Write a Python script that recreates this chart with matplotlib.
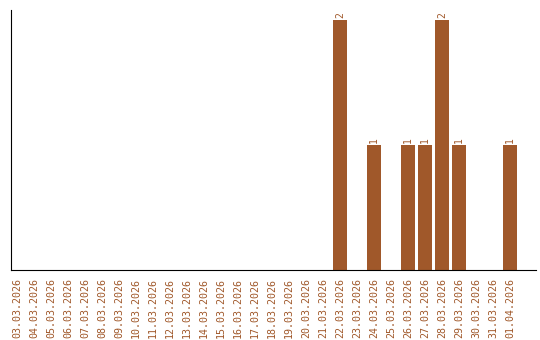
import matplotlib
matplotlib.use("Agg")
import matplotlib.pyplot as plt

dates = ["03.03.2026", "04.03.2026", "05.03.2026", "06.03.2026", "07.03.2026",
         "08.03.2026", "09.03.2026", "10.03.2026", "11.03.2026", "12.03.2026",
         "13.03.2026", "14.03.2026", "15.03.2026", "16.03.2026", "17.03.2026",
         "18.03.2026", "19.03.2026", "20.03.2026", "21.03.2026", "22.03.2026",
         "23.03.2026", "24.03.2026", "25.03.2026", "26.03.2026", "27.03.2026",
         "28.03.2026", "29.03.2026", "30.03.2026", "31.03.2026", "01.04.2026"]
counts = [0, 0, 0, 0, 0, 0, 0, 0, 0, 0,
          0, 0, 0, 0, 0, 0, 0, 0, 0, 2,
          0, 1, 0, 1, 1, 2, 1, 0, 0, 1]

col = "#a0582a"
fig = plt.figure(figsize=(5.4, 3.4), dpi=100)
ax = fig.add_axes([10.5/540, 70/340, 525/540, 260/340])

x = list(range(len(dates)))
ax.bar(x, counts, width=0.82, color=col)
for i, c in enumerate(counts):
    if c > 0:
        ax.text(i, c + 0.02, str(c), rotation=90, ha="center", va="bottom",
                color=col, fontsize=7, family="DejaVu Sans Mono")

ax.set_xlim(-0.38, 30.5)
ax.set_ylim(0, 2.08)
ax.set_xticks(x)
ax.set_xticklabels(dates, rotation=90, color=col, fontsize=7.2, family="DejaVu Sans Mono")
ax.tick_params(axis="x", length=0, pad=6)
ax.set_yticks([])
ax.spines["top"].set_visible(False)
ax.spines["right"].set_visible(False)

fig.savefig("out.png", dpi=100)
